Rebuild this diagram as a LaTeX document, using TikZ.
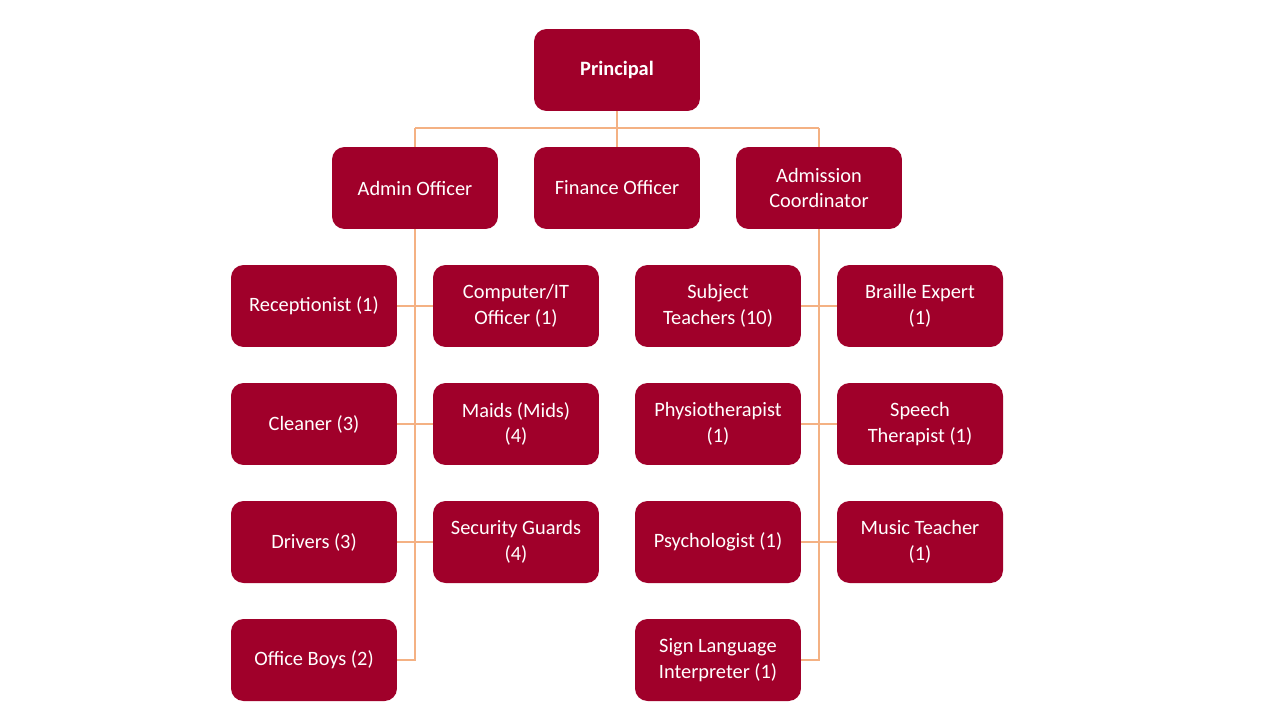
\documentclass[tikz,border=0pt]{standalone}
\usepackage{fontspec}
\setmainfont{Carlito}
\definecolor{boxred}{HTML}{A0002A}
\definecolor{lineor}{HTML}{F4B183}
\begin{document}
\begin{tikzpicture}[x=0.02cm,y=-0.02cm,
 box/.style={fill=boxred,draw=none,rounded corners=0.25cm,minimum width=3.32cm,minimum height=1.64cm,text=white,align=center,font=\fontsize{11.6}{14.5}\selectfont,inner sep=1pt},
 ln/.style={draw=lineor,line width=0.6pt}]
\useasboundingbox (0,0) rectangle (1280,720);
\node[box,font=\fontsize{11.6}{14.5}\selectfont\bfseries] (p) at (617,70) {Principal};
\node[box] (ao) at (415,188) {Admin Officer};
\node[box] (fo) at (617,188) {Finance Officer};
\node[box] (ac) at (819,188) {Admission\\Coordinator};
\node[box] (a1) at (314,306) {Receptionist (1)};
\node[box] (a2) at (314,424) {Cleaner (3)};
\node[box] (a3) at (314,542) {Drivers (3)};
\node[box] (a4) at (314,660) {Office Boys (2)};
\node[box] (b1) at (516,306) {Computer/IT\\Officer (1)};
\node[box] (b2) at (516,424) {Maids (Mids)\\(4)};
\node[box] (b3) at (516,542) {Security Guards\\(4)};
\node[box] (c1) at (718,306) {Subject\\Teachers (10)};
\node[box] (c2) at (718,424) {Physiotherapist\\(1)};
\node[box] (c3) at (718,542) {Psychologist (1)};
\node[box] (c4) at (718,660) {Sign Language\\Interpreter (1)};
\node[box] (d1) at (920,306) {Braille Expert\\(1)};
\node[box] (d2) at (920,424) {Speech\\Therapist (1)};
\node[box] (d3) at (920,542) {Music Teacher\\(1)};
\coordinate (j) at (617,128);
\coordinate (jl) at (415,128);
\coordinate (jr) at (819,128);
\coordinate (ae) at (415,660);
\coordinate (ce) at (819,660);
\draw[ln] (p.south) -- (j) -- (fo.north);
\draw[ln] (jl) -- (jr);
\draw[ln] (jl) -- (ao.north);
\draw[ln] (jr) -- (ac.north);
\draw[ln] (ao.south) -- (ae) -- (a4.east);
\foreach \n in {a1,a2,a3} \draw[ln] (\n.east) -- (\n.east -| ae);
\foreach \n in {b1,b2,b3} \draw[ln] (\n.west) -- (\n.west -| ae);
\draw[ln] (ac.south) -- (ce) -- (c4.east);
\foreach \n in {c1,c2,c3} \draw[ln] (\n.east) -- (\n.east -| ce);
\foreach \n in {d1,d2,d3} \draw[ln] (\n.west) -- (\n.west -| ce);
\end{tikzpicture}
\end{document}
